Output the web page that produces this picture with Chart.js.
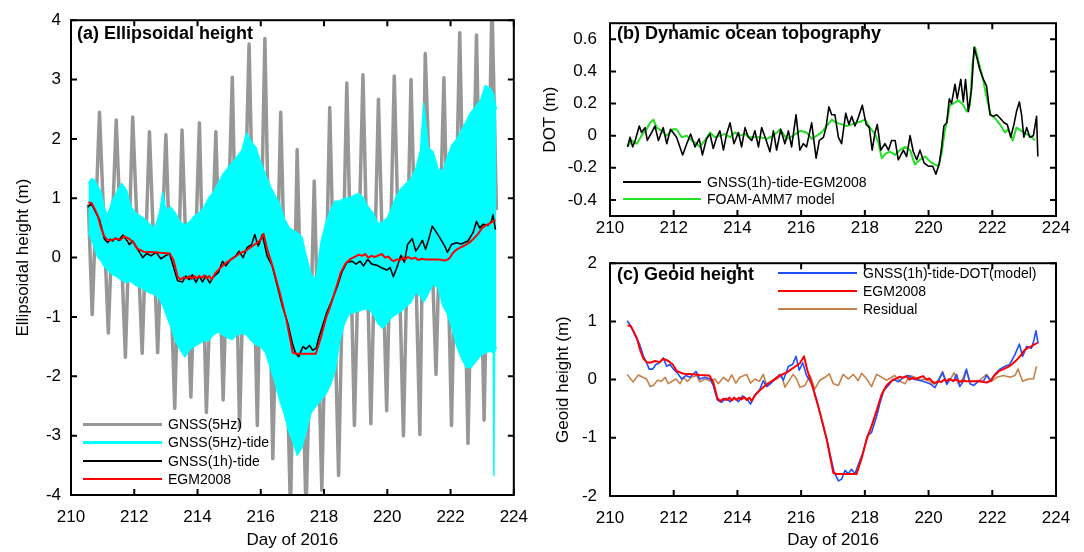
<!DOCTYPE html>
<html lang="en">
<head>
<meta charset="UTF-8">
<title>Ellipsoidal height, dynamic ocean topography and geoid height</title>
<script src="https://cdn.jsdelivr.net/npm/chart.js"></script>
<style>
  body { margin: 0; width: 1084px; height: 552px; background: #fff; position: relative; overflow: hidden;
         font-family: "Liberation Sans", Arial, sans-serif; color: #000; }
  canvas { position: absolute; }
  #chartA { left: 0; top: 0; }
  #chartB { left: 540px; top: 0; }
  #chartC { left: 540px; top: 240px; }
  .ptitle { position: absolute; font-weight: bold; font-size: 18px; line-height: 18px; white-space: nowrap; }
  .legend { position: absolute; font-size: 14px; }
  .legend div { height: 18.3px; display: flex; align-items: center; white-space: nowrap; }
  .legend .ln { display: inline-block; width: 79px; margin-right: 6px; }
</style>
</head>
<body>
<canvas id="chartA" width="540" height="552"></canvas>
<canvas id="chartB" width="544" height="240"></canvas>
<canvas id="chartC" width="544" height="312"></canvas>

<div class="ptitle" style="left:77px; top:24px;">(a) Ellipsoidal height</div>
<div class="ptitle" style="left:617px; top:24px;">(b) Dynamic ocean topography</div>
<div class="ptitle" style="left:617px; top:265px;">(c) Geoid height</div>

<div class="legend" style="left:83px; top:415px;">
  <div><span class="ln" style="border-top:3px solid #979797"></span>GNSS(5Hz)</div>
  <div><span class="ln" style="border-top:3px solid #00ffff"></span>GNSS(5Hz)-tide</div>
  <div><span class="ln" style="border-top:2px solid #000"></span>GNSS(1h)-tide</div>
  <div><span class="ln" style="border-top:2px solid #ff0000"></span>EGM2008</div>
</div>
<div class="legend" style="left:623px; top:173px;">
  <div style="height:17.6px"><span class="ln" style="width:78px; border-top:2px solid #000"></span>GNSS(1h)-tide-EGM2008</div>
  <div style="height:17.6px"><span class="ln" style="width:78px; border-top:2px solid #22e022"></span>FOAM-AMM7 model</div>
</div>
<div class="legend" style="left:778px; top:263.5px;">
  <div><span class="ln" style="border-top:2px solid #1f4fff"></span>GNSS(1h)-tide-DOT(model)</div>
  <div><span class="ln" style="border-top:2px solid #ff0000"></span>EGM2008</div>
  <div><span class="ln" style="border-top:2px solid #c4824a"></span>Residual</div>
</div>

<script>
// ---- data (day of 2016, metres) ----

// (a) raw 5 Hz ellipsoidal height: tidal troughs and crests
const gnss5hz = [
  [210.55, 0.9], [210.67, -0.96], [210.90, 2.45], [211.18, -1.27], [211.43, 2.32], [211.72, -1.68],
  [211.95, 2.37], [212.25, -1.61], [212.48, 2.12], [212.74, -1.6], [213.00, 2.07], [213.28, -2.54],
  [213.51, 2.15], [213.79, -2.35], [214.06, 2.27], [214.28, -2.61], [214.58, 2.12], [214.81, -2.4],
  [215.10, 3.04], [215.33, -2.86], [215.63, 3.6], [215.89, -2.83], [216.13, 3.69], [216.38, -3.39],
  [216.63, 2.45], [216.94, -4.3], [217.15, 1.82], [217.43, -4.3], [217.69, 1.29], [217.93, -3.92],
  [218.18, 2.53], [218.46, -3.67], [218.72, 2.94], [218.96, -2.83], [219.23, 3.08], [219.48, -2.8],
  [219.72, 2.67], [219.98, -2.58], [220.22, 3.06], [220.51, -3.0], [220.75, 3.0], [221.03, -2.98],
  [221.20, 3.44], [221.54, -1.97], [221.79, 3.03], [222.03, -2.83], [222.29, 3.79], [222.55, -3.13],
  [222.82, 3.75], [223.06, -2.74], [223.31, 4.3], [223.45, 0.8]
];

// (a) 5 Hz minus tide: upper and lower edge of the band
const cyanDay = [
  210.55, 210.65, 210.75, 210.85, 210.95, 211.05, 211.15, 211.3, 211.45, 211.6, 211.75, 211.9,
  212.05, 212.2, 212.35, 212.5, 212.65, 212.8, 212.9, 213.0, 213.15, 213.3, 213.45, 213.6,
  213.75, 213.9, 214.05, 214.2, 214.35, 214.5, 214.65, 214.8, 214.95, 215.1, 215.25, 215.4,
  215.55, 215.7, 215.85, 216.0, 216.15, 216.3, 216.45, 216.6, 216.75, 216.9, 217.05, 217.15,
  217.3, 217.45, 217.6, 217.75, 217.9, 218.05, 218.2, 218.35, 218.5, 218.65, 218.8, 218.95,
  219.1, 219.25, 219.4, 219.55, 219.7, 219.85, 220.0, 220.15, 220.3, 220.45, 220.6, 220.75,
  220.9, 221.05, 221.15, 221.3, 221.45, 221.6, 221.75, 221.9, 222.05, 222.2, 222.35, 222.5,
  222.65, 222.8, 222.95, 223.1, 223.25, 223.35, 223.37, 223.39, 223.45
];
const cyanUpper = [
  1.25, 1.33, 1.3, 1.2, 1.1, 0.85, 0.7, 0.95, 1.1, 1.25, 1.14, 0.85,
  0.75, 0.7, 0.64, 0.55, 0.5, 0.75, 1.1, 0.8, 0.85, 0.75, 0.6, 0.55,
  0.6, 0.7, 0.75, 0.85, 1.0, 1.1, 1.25, 1.4, 1.5, 1.6, 1.7, 1.8,
  2.1, 1.95, 1.85, 1.6, 1.4, 1.2, 1.05, 0.9, 0.65, 0.5, 0.45, 0.42,
  0.35, 0.0, -0.3, -0.35, 0.25, 0.57, 0.8, 0.95, 0.95, 1.0, 1.0, 1.05,
  1.08, 1.0, 0.85, 0.75, 0.57, 0.6, 0.67, 0.85, 1.05, 1.17, 1.25, 1.33,
  1.5, 1.8, 2.6, 1.85, 1.78, 1.5, 1.45, 1.7, 1.9, 2.0, 2.15, 2.3,
  2.45, 2.55, 2.65, 2.9, 2.85, 2.75, 2.7, 2.65, 2.5
];
const cyanLower = [
  0.42, 0.3, 0.15, 0.0, -0.05, -0.15, -0.2, -0.28, -0.32, -0.38, -0.42, -0.4,
  -0.47, -0.5, -0.55, -0.6, -0.62, -0.7, -0.8, -0.95, -1.15, -1.4, -1.55, -1.67,
  -1.55, -1.5, -1.45, -1.4, -1.4, -1.3, -1.25, -1.3, -1.35, -1.38, -1.3, -1.28,
  -1.3, -1.4, -1.47, -1.5, -1.6, -1.85, -2.1, -2.4, -2.65, -2.95, -3.15, -3.33,
  -3.2, -2.9, -2.6, -2.5, -2.4, -2.3, -2.15, -1.9, -1.4, -1.1, -0.95, -0.92,
  -0.9, -0.87, -0.86, -0.95, -1.1, -1.19, -1.1, -1.0, -0.95, -0.9, -0.82, -0.75,
  -0.58, -0.65, -0.75, -0.6, -0.45, -0.5, -0.8, -0.95, -1.2, -1.5, -1.7, -1.85,
  -1.85, -1.75, -1.65, -1.6, -1.58, -1.6, -3.67, -1.6, -1.5
];

// (a) hourly GNSS minus tide
const gnss1h = [
  [210.53, 0.85], [210.64, 0.91], [210.74, 0.81], [210.9, 0.64], [211.06, 0.31], [211.16, 0.25],
  [211.24, 0.31], [211.32, 0.28], [211.4, 0.33], [211.51, 0.29], [211.64, 0.38], [211.74, 0.31],
  [211.85, 0.22], [211.95, 0.28], [212.11, 0.14], [212.27, 0.0], [212.39, 0.07], [212.53, 0.03],
  [212.69, 0.09], [212.84, -0.02], [212.98, 0.03], [213.11, 0.07], [213.26, -0.19], [213.37, -0.39],
  [213.53, -0.41], [213.63, -0.31], [213.74, -0.37], [213.84, -0.29], [213.95, -0.42], [214.05, -0.31],
  [214.16, -0.41], [214.26, -0.31], [214.39, -0.43], [214.49, -0.33], [214.66, -0.25], [214.79, -0.06],
  [214.89, -0.14], [215.05, -0.03], [215.21, 0.03], [215.31, 0.11], [215.44, 0.0], [215.57, 0.17],
  [215.71, 0.22], [215.81, 0.39], [215.92, 0.19], [216.05, 0.39], [216.2, 0.03], [216.36, -0.14],
  [216.52, -0.47], [216.68, -0.81], [216.85, -1.1], [217.01, -1.47], [217.1, -1.61], [217.2, -1.67],
  [217.33, -1.5], [217.43, -1.54], [217.54, -1.48], [217.64, -1.56], [217.75, -1.53], [217.83, -1.36],
  [217.93, -1.19], [218.09, -0.92], [218.25, -0.72], [218.41, -0.5], [218.56, -0.25], [218.72, -0.08],
  [218.88, -0.06], [219.01, -0.11], [219.14, -0.06], [219.25, -0.14], [219.38, -0.03], [219.51, -0.11],
  [219.67, -0.13], [219.82, -0.17], [219.98, -0.21], [220.09, -0.17], [220.19, -0.32], [220.3, -0.17],
  [220.43, 0.04], [220.54, -0.08], [220.64, 0.22], [220.79, 0.32], [220.9, 0.11], [221.0, 0.19],
  [221.11, 0.29], [221.21, 0.14], [221.32, 0.33], [221.42, 0.53], [221.56, 0.42], [221.71, 0.29],
  [221.82, 0.19], [221.9, 0.09], [222.03, 0.22], [222.19, 0.25], [222.34, 0.23], [222.55, 0.28],
  [222.71, 0.42], [222.82, 0.61], [222.92, 0.5], [223.03, 0.56], [223.18, 0.54], [223.29, 0.61],
  [223.34, 0.72], [223.42, 0.47]
];

// (a) and (c) EGM2008 geoid along the track
const egm2008 = [
  [210.55, 0.93], [210.65, 0.92], [210.75, 0.82], [210.85, 0.7], [210.95, 0.5], [211.05, 0.36],
  [211.15, 0.3], [211.26, 0.29], [211.41, 0.32], [211.57, 0.3], [211.67, 0.36], [211.83, 0.32],
  [211.97, 0.26], [212.09, 0.15], [212.3, 0.1], [212.62, 0.09], [212.82, 0.08], [213.12, 0.07],
  [213.24, -0.04], [213.37, -0.32], [213.46, -0.37], [213.56, -0.33], [213.66, -0.35], [213.75, -0.31],
  [213.82, -0.36], [213.9, -0.31], [213.97, -0.35], [214.05, -0.31], [214.13, -0.34], [214.21, -0.3],
  [214.29, -0.35], [214.37, -0.31], [214.45, -0.37], [214.55, -0.27], [214.71, -0.18], [214.92, -0.08],
  [215.13, -0.01], [215.33, 0.07], [215.54, 0.12], [215.75, 0.2], [215.96, 0.28], [216.09, 0.4],
  [216.19, 0.17], [216.38, -0.16], [216.59, -0.57], [216.8, -1.02], [217.01, -1.6], [217.1, -1.62],
  [217.74, -1.62], [217.9, -1.35], [218.06, -1.02], [218.21, -0.8], [218.37, -0.53], [218.53, -0.25],
  [218.68, -0.1], [218.84, -0.02], [219.0, 0.02], [219.1, 0.05], [219.2, 0.03], [219.3, 0.06],
  [219.4, 0.0], [219.5, 0.03], [219.6, 0.01], [219.73, 0.04], [219.83, 0.06], [219.93, 0.0],
  [220.03, 0.02], [220.13, -0.04], [220.2, -0.06], [220.3, -0.03], [220.4, -0.04], [220.5, 0.0],
  [220.56, -0.03], [220.65, 0.01], [220.77, -0.02], [220.88, 0.0], [220.98, -0.04], [221.09, -0.02],
  [221.2, -0.03], [221.4, -0.03], [221.6, -0.03], [221.82, -0.05], [221.95, -0.02], [222.08, 0.08],
  [222.2, 0.14], [222.35, 0.18], [222.5, 0.22], [222.61, 0.26], [222.75, 0.33], [222.87, 0.4],
  [223.0, 0.5], [223.13, 0.55], [223.23, 0.57], [223.34, 0.61], [223.42, 0.63]
];

// (b) dynamic ocean topography
const dotGnss = [
  [210.55, -0.07], [210.63, -0.01], [210.71, -0.07], [210.79, -0.03], [210.92, 0.06], [210.99, 0.02],
  [211.1, 0.05], [211.17, -0.03], [211.31, 0.02], [211.41, 0.06], [211.52, -0.03], [211.67, 0.05],
  [211.78, -0.05], [211.9, 0.04], [212.09, -0.01], [212.28, -0.12], [212.41, -0.05], [212.53, 0.01],
  [212.67, -0.07], [212.8, -0.02], [212.9, -0.12], [213.03, -0.02], [213.14, 0.01], [213.24, -0.08],
  [213.35, -0.01], [213.45, 0.03], [213.56, -0.09], [213.66, 0.01], [213.77, 0.08], [213.89, -0.05],
  [214.03, 0.02], [214.13, -0.07], [214.24, 0.05], [214.34, -0.01], [214.45, -0.03], [214.55, 0.03],
  [214.66, -0.07], [214.76, 0.05], [214.87, -0.01], [215.02, -0.1], [215.13, 0.03], [215.23, -0.09],
  [215.36, 0.04], [215.49, -0.05], [215.6, 0.03], [215.7, -0.07], [215.84, 0.13], [215.96, -0.09],
  [216.07, -0.05], [216.17, -0.07], [216.33, 0.08], [216.47, -0.14], [216.57, -0.03], [216.7, -0.01],
  [216.78, 0.05], [216.87, 0.18], [216.96, 0.13], [217.06, 0.13], [217.17, -0.01], [217.27, -0.05],
  [217.4, 0.14], [217.5, 0.07], [217.59, 0.12], [217.69, 0.06], [217.79, 0.11], [217.92, 0.19],
  [218.04, 0.07], [218.14, 0.05], [218.23, -0.09], [218.32, 0.02], [218.39, 0.07], [218.5, -0.09],
  [218.63, -0.05], [218.74, -0.09], [218.84, -0.03], [218.95, -0.03], [219.05, -0.15], [219.21, -0.09],
  [219.31, -0.13], [219.42, 0.0], [219.52, -0.1], [219.63, -0.15], [219.73, -0.09], [219.86, -0.17],
  [219.99, -0.19], [220.13, -0.19], [220.23, -0.24], [220.34, -0.17], [220.41, -0.07], [220.48, 0.06],
  [220.57, 0.08], [220.65, 0.23], [220.72, 0.2], [220.83, 0.32], [220.9, 0.23], [221.01, 0.35],
  [221.09, 0.21], [221.16, 0.35], [221.25, 0.15], [221.35, 0.29], [221.43, 0.55], [221.51, 0.49],
  [221.61, 0.41], [221.72, 0.35], [221.82, 0.31], [221.93, 0.13], [222.03, 0.12], [222.14, 0.13],
  [222.24, 0.11], [222.37, 0.08], [222.47, 0.07], [222.58, -0.01], [222.68, 0.07], [222.76, 0.15],
  [222.85, 0.21], [222.92, 0.13], [222.99, -0.01], [223.08, 0.05], [223.18, -0.01], [223.29, 0.0],
  [223.39, 0.12], [223.43, -0.13]
];
const dotModel = [
  [210.55, -0.07], [210.68, -0.03], [210.84, -0.05], [210.99, 0.0], [211.15, 0.04], [211.26, 0.08],
  [211.36, 0.1], [211.47, 0.05], [211.62, 0.03], [211.78, 0.0], [211.97, 0.04], [212.09, 0.04],
  [212.25, -0.01], [212.41, 0.0], [212.56, -0.03], [212.72, -0.05], [212.82, -0.07], [212.98, -0.03],
  [213.14, 0.02], [213.29, -0.01], [213.45, 0.0], [213.61, 0.01], [213.77, -0.01], [213.92, 0.02],
  [214.08, 0.0], [214.24, 0.01], [214.39, -0.01], [214.55, -0.01], [214.71, -0.01], [214.92, -0.02],
  [215.13, 0.0], [215.34, 0.04], [215.55, -0.02], [215.75, 0.0], [215.96, 0.03], [216.17, 0.02],
  [216.33, -0.02], [216.49, 0.0], [216.64, 0.02], [216.8, 0.06], [216.96, 0.1], [217.11, 0.08],
  [217.27, 0.07], [217.43, 0.06], [217.59, 0.07], [217.74, 0.08], [217.9, 0.09], [218.0, 0.1],
  [218.16, 0.05], [218.32, 0.01], [218.42, -0.04], [218.53, -0.14], [218.66, -0.11], [218.79, -0.1],
  [218.95, -0.12], [219.1, -0.09], [219.26, -0.07], [219.42, -0.09], [219.57, -0.18], [219.73, -0.15],
  [219.89, -0.13], [220.04, -0.16], [220.2, -0.18], [220.31, -0.19], [220.41, -0.11], [220.51, 0.03],
  [220.6, 0.11], [220.67, 0.19], [220.78, 0.2], [220.93, 0.22], [221.09, 0.19], [221.2, 0.15],
  [221.3, 0.19], [221.38, 0.45], [221.46, 0.55], [221.56, 0.47], [221.7, 0.36], [221.82, 0.24],
  [221.95, 0.13], [222.08, 0.11], [222.24, 0.07], [222.4, 0.02], [222.5, 0.04], [222.64, -0.03],
  [222.76, 0.05], [222.92, 0.03], [223.08, 0.01], [223.24, -0.01], [223.34, -0.03]
];

// (c) GNSS(1h) minus tide minus model DOT, and residual
const geoidGnss = [
  [210.54, 1.01], [210.65, 0.92], [210.78, 0.77], [210.92, 0.62], [211.05, 0.4], [211.15, 0.29],
  [211.23, 0.18], [211.34, 0.18], [211.44, 0.26], [211.55, 0.29], [211.67, 0.37], [211.78, 0.23],
  [211.88, 0.26], [211.99, 0.18], [212.11, 0.12], [212.25, 0.01], [212.38, 0.07], [212.51, 0.04],
  [212.7, 0.14], [212.82, 0.01], [212.98, 0.04], [213.14, 0.01], [213.24, -0.1], [213.37, -0.35],
  [213.5, -0.39], [213.64, -0.32], [213.77, -0.38], [213.89, -0.31], [214.03, -0.38], [214.16, -0.28],
  [214.31, -0.34], [214.41, -0.42], [214.52, -0.29], [214.71, -0.16], [214.81, -0.02], [214.92, -0.12],
  [215.04, -0.07], [215.18, 0.01], [215.33, 0.09], [215.44, -0.01], [215.6, 0.23], [215.73, 0.26],
  [215.84, 0.4], [215.94, 0.16], [216.05, 0.29], [216.17, 0.07], [216.33, -0.07], [216.49, -0.35],
  [216.64, -0.68], [216.8, -1.02], [216.96, -1.41], [217.04, -1.6], [217.17, -1.74], [217.27, -1.71],
  [217.38, -1.56], [217.48, -1.62], [217.58, -1.54], [217.69, -1.62], [217.83, -1.41], [217.95, -1.24],
  [218.08, -0.96], [218.21, -0.91], [218.37, -0.63], [218.47, -0.41], [218.6, -0.18], [218.74, -0.1],
  [218.89, 0.01], [219.05, -0.04], [219.21, 0.04], [219.36, 0.07], [219.52, 0.01], [219.68, -0.01],
  [219.83, -0.03], [220.04, -0.07], [220.2, -0.14], [220.3, -0.03], [220.44, 0.12], [220.57, -0.08],
  [220.67, 0.01], [220.78, -0.03], [220.88, 0.09], [220.98, -0.12], [221.09, -0.03], [221.19, 0.18],
  [221.3, -0.07], [221.42, -0.1], [221.56, -0.03], [221.72, -0.03], [221.82, 0.07], [221.95, -0.02],
  [222.08, 0.09], [222.24, 0.18], [222.4, 0.23], [222.55, 0.26], [222.71, 0.43], [222.85, 0.61],
  [222.95, 0.4], [223.08, 0.57], [223.23, 0.54], [223.31, 0.68], [223.37, 0.84], [223.44, 0.62]
];
const residual = [
  [210.54, 0.09], [210.65, 0.01], [210.73, -0.04], [210.89, 0.08], [211.03, 0.04], [211.15, 0.01],
  [211.26, -0.12], [211.36, -0.1], [211.49, -0.01], [211.62, -0.03], [211.73, 0.04], [211.83, -0.07],
  [211.94, -0.03], [212.07, 0.01], [212.2, -0.07], [212.3, 0.04], [212.43, -0.03], [212.56, 0.04],
  [212.72, 0.07], [212.82, -0.04], [212.98, 0.01], [213.14, -0.02], [213.29, 0.01], [213.4, -0.07],
  [213.56, 0.04], [213.71, -0.03], [213.82, 0.08], [213.95, -0.06], [214.08, 0.04], [214.29, 0.09],
  [214.41, -0.06], [214.55, 0.01], [214.69, -0.03], [214.81, 0.09], [214.92, -0.1], [215.07, -0.04],
  [215.23, 0.01], [215.39, 0.07], [215.49, -0.13], [215.63, -0.01], [215.75, 0.09], [215.86, 0.01],
  [215.96, -0.13], [216.12, -0.1], [216.28, 0.07], [216.43, -0.16], [216.59, -0.01], [216.75, 0.04],
  [216.88, 0.1], [217.01, -0.07], [217.17, -0.1], [217.32, 0.09], [217.48, 0.01], [217.64, 0.09],
  [217.79, -0.02], [217.9, 0.11], [218.06, 0.01], [218.21, -0.12], [218.37, 0.09], [218.53, 0.04],
  [218.68, -0.01], [218.84, 0.04], [218.94, 0.07], [219.1, -0.03], [219.26, -0.07], [219.42, 0.07],
  [219.57, 0.04], [219.73, -0.01], [219.89, 0.01], [220.04, -0.03], [220.17, -0.08], [220.3, -0.01],
  [220.44, 0.14], [220.57, -0.06], [220.69, 0.01], [220.8, 0.12], [220.93, -0.07], [221.07, 0.01],
  [221.17, 0.16], [221.3, -0.03], [221.46, -0.03], [221.61, -0.01], [221.82, 0.09], [221.98, -0.03],
  [222.14, 0.04], [222.35, 0.07], [222.55, 0.04], [222.71, 0.07], [222.81, 0.18], [222.95, -0.03],
  [223.13, 0.01], [223.29, 0.01], [223.39, 0.23]
];

const xTickValues = [210, 212, 214, 216, 218, 220, 222, 224];
const dotTickValues = [-0.4, -0.2, 0, 0.2, 0.4, 0.6];

// ---- helpers ----
const FONT = { family: '"Liberation Sans", Arial, sans-serif', size: 17 };
const pts = arr => arr.map(p => ({ x: p[0], y: p[1] }));
const band = (days, vals) => days.map((d, i) => ({ x: d, y: vals[i] }));

function line(label, data, color, width) {
  return { label, data, borderColor: color, backgroundColor: color, borderWidth: width,
           pointRadius: 0, tension: 0, fill: false, borderJoinStyle: 'round' };
}

// box around the plot with inward ticks on all four sides
const framePlugin = {
  id: 'frame',
  afterDraw(chart) {
    const { ctx, chartArea: a, scales: { x, y } } = chart;
    ctx.save();
    ctx.strokeStyle = '#000';
    ctx.lineWidth = 2;
    ctx.beginPath();
    x.ticks.forEach(t => {
      const px = x.getPixelForValue(t.value);
      ctx.moveTo(px, a.bottom); ctx.lineTo(px, a.bottom - 6);
      ctx.moveTo(px, a.top); ctx.lineTo(px, a.top + 6);
    });
    y.ticks.forEach(t => {
      const py = y.getPixelForValue(t.value);
      ctx.moveTo(a.left, py); ctx.lineTo(a.left + 6, py);
      ctx.moveTo(a.right, py); ctx.lineTo(a.right - 6, py);
    });
    ctx.stroke();
    ctx.strokeRect(a.left, a.top, a.right - a.left, a.bottom - a.top);
    ctx.restore();
  }
};

function panel(id, datasets, o) {
  return new Chart(document.getElementById(id), {
    type: 'line',
    data: { datasets },
    plugins: [framePlugin],
    options: {
      responsive: false,
      animation: false,
      events: [],
      layout: { padding: { top: 15, right: o.right, left: 0, bottom: 0 } },
      plugins: { legend: { display: false }, tooltip: { enabled: false } },
      scales: {
        x: {
          type: 'linear', min: 210, max: 224,
          grid: { display: false, drawTicks: false }, border: { display: false },
          ticks: { font: FONT, color: '#000', padding: o.xPad, maxRotation: 0, autoSkip: false },
          afterBuildTicks: s => { s.ticks = xTickValues.map(v => ({ value: v })); },
          title: { display: !!o.xTitle, text: o.xTitle || '', font: FONT, color: '#000', padding: { top: 0, bottom: 1 } },
          afterFit: s => { s.height = o.xHeight; }
        },
        y: {
          type: 'linear', min: o.yMin, max: o.yMax,
          grid: { display: false, drawTicks: false }, border: { display: false },
          ticks: { font: FONT, color: '#000', padding: o.yPad, autoSkip: false },
          afterBuildTicks: s => { s.ticks = o.yTicks.map(v => ({ value: v })); },
          title: { display: true, text: o.yTitle, font: FONT, color: '#000', padding: { top: o.yTitlePad, bottom: 0 } },
          afterFit: s => { s.width = o.yWidth; }
        }
      }
    }
  });
}

// (a) ellipsoidal height
panel('chartA', [
  line('EGM2008', pts(egm2008), '#ff0000', 2),
  line('GNSS(1h)-tide', pts(gnss1h), '#000000', 1.6),
  Object.assign(line('GNSS(5Hz)-tide', band(cyanDay, cyanUpper), '#00ffff', 1.5), { fill: '+1' }),
  line('GNSS(5Hz)-tide lower', band(cyanDay, cyanLower), '#00ffff', 1.5),
  line('GNSS(5Hz)', pts(gnss5hz), '#979797', 3.5)
], { right: 24, xHeight: 57, xPad: 12, xTitle: 'Day of 2016', yWidth: 71, yPad: 10,
     yMin: -4, yMax: 4, yTicks: [-4, -3, -2, -1, 0, 1, 2, 3, 4],
     yTitle: 'Ellipsoidal height (m)', yTitlePad: 13 });

// (b) dynamic ocean topography
panel('chartB', [
  line('GNSS(1h)-tide-EGM2008', pts(dotGnss), '#000000', 1.6),
  line('FOAM-AMM7 model', pts(dotModel), '#22e022', 2)
], { right: 28, xHeight: 24, xPad: 2, xTitle: '', yWidth: 70, yPad: 13,
     yMin: -0.5, yMax: 0.7, yTicks: dotTickValues, yTitle: 'DOT (m)', yTitlePad: 0 });

// (c) geoid height
panel('chartC', [
  line('EGM2008', pts(egm2008), '#ff0000', 2),
  line('GNSS(1h)-tide-DOT(model)', pts(geoidGnss), '#1f4fff', 1.6),
  line('Residual', pts(residual), '#c4824a', 1.6)
], { right: 28, xHeight: 56, xPad: 12, xTitle: 'Day of 2016', yWidth: 70, yPad: 13,
     yMin: -2, yMax: 2, yTicks: [-2, -1, 0, 1, 2], yTitle: 'Geoid height (m)', yTitlePad: 13 });
</script>
</body>
</html>
